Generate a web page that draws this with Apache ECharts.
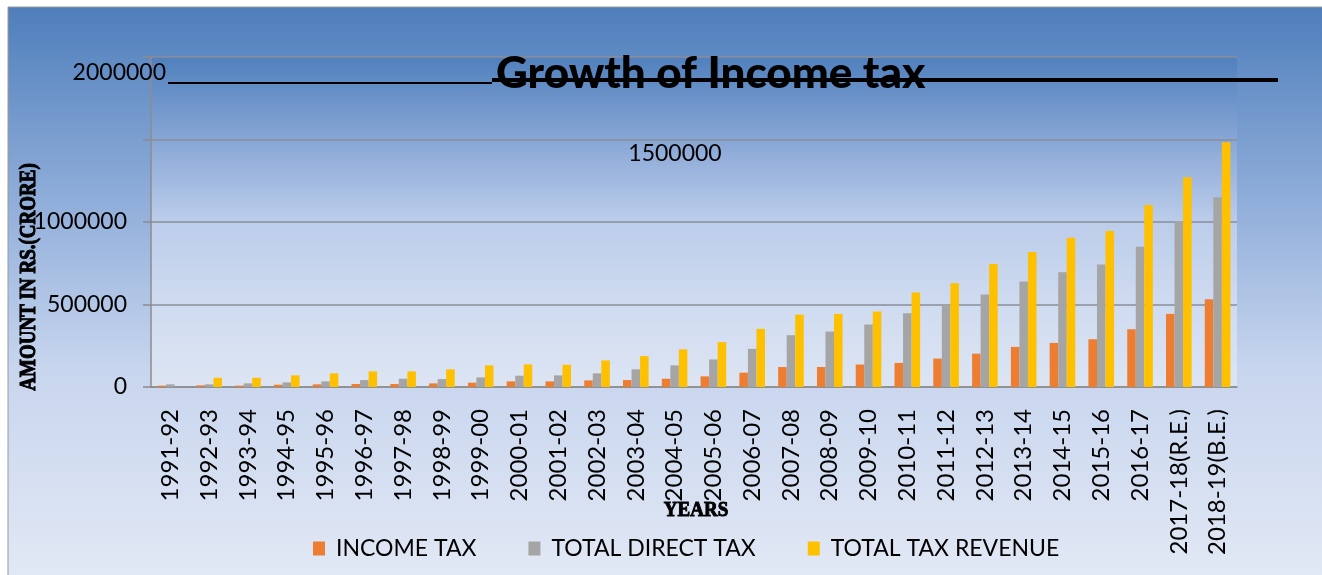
<!DOCTYPE html>
<html>
<head>
<meta charset="utf-8">
<script src="https://cdn.jsdelivr.net/npm/echarts@6/dist/echarts.min.js"></script>
<style>
  html, body { margin: 0; padding: 0; background: #fff; }
  #chart { width: 1322px; height: 575px; }
</style>
</head>
<body>
<div id="chart"></div>
<script>
const years = ['1991-92', '1992-93', '1993-94', '1994-95', '1995-96', '1996-97', '1997-98',
  '1998-99', '1999-00', '2000-01', '2001-02', '2002-03', '2003-04', '2004-05', '2005-06',
  '2006-07', '2007-08', '2008-09', '2009-10', '2010-11', '2011-12', '2012-13', '2013-14',
  '2014-15', '2015-16', '2016-17', '2017-18(R.E.)', '2018-19(B.E.)'];

const incomeTax = [8000, 10000, 8000, 14000, 16000, 18000, 18000, 22000, 26000, 34000,
  34000, 40000, 42000, 50000, 64500, 87000, 121000, 121000, 136000, 146000,
  172000, 202000, 243000, 267000, 289500, 350000, 443000, 532000];

const directTax = [16000, 16000, 22000, 28000, 34000, 42000, 50000, 48000, 58000, 68500,
  70500, 82700, 107000, 131000, 167000, 231000, 314000, 336000, 378500, 447000,
  498000, 561000, 640000, 696000, 743000, 850000, 1006000, 1150000];

const totalRevenue = [null, 56000, 56000, 70500, 82700, 94800, 94800, 107000, 131000, 137000,
  135000, 161000, 187500, 228000, 272000, 352000, 439000, 443000, 457500, 573000,
  629500, 745000, 818000, 905000, 945000, 1103000, 1271000, 1484000];

const seriesNames = ['INCOME TAX', 'TOTAL DIRECT TAX', 'TOTAL TAX REVENUE'];
// ticks drawn by the axis; the two top ones sit off their gridlines in the original
const yTicks = [0, 500000, 1000000, 1500000, 2000000];
const strayTicks = [1500000, 2000000];

const colors = ['#ED7D31', '#A5A5A5', '#FFC000'];
const labelFont = 'Lato, "Open Sans", sans-serif';
const nameFont = '"Liberation Serif", serif';

const chart = echarts.init(document.getElementById('chart'));

chart.setOption({
  animation: false,
  color: colors,
  title: {
    text: 'Growth of Income tax',
    left: 491,
    top: 47,
    textStyle: {
      fontFamily: labelFont,
      fontWeight: 900,
      fontSize: 44,
      color: '#000'
    }
  },
  legend: {
    data: seriesNames,
    left: 308,
    top: 532,
    itemWidth: 12,
    itemHeight: 14,
    itemGap: 52,
    icon: 'rect',
    textStyle: {
      fontFamily: labelFont,
      fontSize: 23,
      color: '#000',
      padding: [0, 0, 0, 6]
    }
  },
  grid: {
    left: 151,
    right: 85,
    top: 57,
    bottom: 188,
    show: true,
    borderWidth: 0,
    backgroundColor: new echarts.graphic.LinearGradient(0, 0, 0, 1, [
      { offset: 0, color: '#5080bd' },
      { offset: 0.28, color: '#8eabd8' },
      { offset: 0.5, color: '#bccdea' },
      { offset: 0.75, color: '#cfdbf0' },
      { offset: 1, color: '#dde5f3' }
    ])
  },
  xAxis: {
    type: 'category',
    data: years,
    axisLine: { lineStyle: { color: '#8c8c8c', width: 1.5 } },
    axisTick: { length: 8, lineStyle: { color: '#8c8c8c', width: 1.5 } },
    axisLabel: {
      rotate: 90,
      interval: 0,
      margin: 22,
      fontFamily: labelFont,
      fontSize: 24,
      color: '#000'
    }
  },
  yAxis: {
    type: 'value',
    min: yTicks[0],
    max: yTicks[yTicks.length - 1],
    interval: yTicks[1] - yTicks[0],
    axisLine: { show: true, lineStyle: { color: '#8c8c8c', width: 1.5 } },
    axisTick: { show: true, length: 8, lineStyle: { color: '#8c8c8c', width: 1.5 } },
    splitLine: { lineStyle: { color: '#8a8e9a', width: 1.5 } },
    axisLabel: {
      margin: 24,
      fontFamily: labelFont,
      fontSize: 23,
      color: '#000',
      formatter: v => (strayTicks.indexOf(v) >= 0 ? '' : String(v))
    }
  },
  series: seriesNames.map((name, i) => ({
    name,
    type: 'bar',
    data: [incomeTax, directTax, totalRevenue][i],
    barGap: '0%',
    barCategoryGap: '34%'
  })),
  graphic: [
    {
      type: 'rect',
      z: -10,
      shape: { x: 8, y: 7, width: 1330, height: 580 },
      style: {
        stroke: '#9a9a9a',
        lineWidth: 1,
        fill: new echarts.graphic.LinearGradient(0, 0, 0, 1, [
          { offset: 0, color: '#4e7ebb' },
          { offset: 0.35, color: '#93b0db' },
          { offset: 0.62, color: '#c7d5ee' },
          { offset: 1, color: '#e3e9f5' }
        ])
      }
    },
    {
      type: 'line',
      z: 100,
      shape: { x1: 168, y1: 83, x2: 492, y2: 83 },
      style: { stroke: '#000', lineWidth: 2 }
    },
    {
      type: 'line',
      z: 100,
      shape: { x1: 492, y1: 80, x2: 1278, y2: 80 },
      style: { stroke: '#000', lineWidth: 4 }
    },
    {
      type: 'text',
      z: 100,
      x: 166,
      y: 73,
      style: {
        text: String(strayTicks[1]),
        align: 'right',
        verticalAlign: 'middle',
        font: '23px ' + labelFont,
        fill: '#000'
      }
    },
    {
      type: 'text',
      z: 100,
      x: 675,
      y: 154,
      style: {
        text: String(strayTicks[0]),
        align: 'center',
        verticalAlign: 'middle',
        font: '23px ' + labelFont,
        fill: '#000'
      }
    },
    {
      type: 'text',
      z: 100,
      x: 29,
      y: 277,
      rotation: Math.PI / 2,
      scaleY: 1.25,
      style: {
        text: 'AMOUNT IN RS.(CRORE)',
        align: 'center',
        verticalAlign: 'middle',
        font: 'bold 19px ' + nameFont,
        fill: '#000',
        stroke: '#000',
        lineWidth: 0.9
      }
    },
    {
      type: 'text',
      z: 100,
      x: 696,
      y: 510,
      scaleY: 1.15,
      style: {
        text: 'YEARS',
        align: 'center',
        verticalAlign: 'middle',
        font: 'bold 19px ' + nameFont,
        fill: '#000',
        stroke: '#000',
        lineWidth: 0.9
      }
    }
  ]
});
</script>
</body>
</html>
